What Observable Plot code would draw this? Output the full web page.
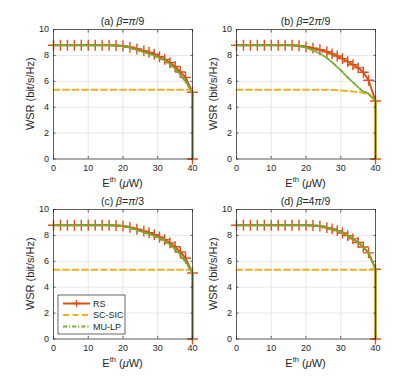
<!DOCTYPE html>
<html><head><meta charset="utf-8">
<script src="https://cdn.jsdelivr.net/npm/d3@7"></script>
<script src="https://cdn.jsdelivr.net/npm/@observablehq/plot@0.6"></script>
<style>
body{margin:0;background:#fff;}
#wrap{position:relative;width:415px;height:380px;font-family:"Liberation Sans",Arial,sans-serif;}
#wrap > svg{position:absolute;}
</style></head><body><div id="wrap"></div>
<script>
// ---- data ----
const xTicks = [0, 10, 20, 30, 40];
const yTicks = [0, 2, 4, 6, 8, 10];

// RS (markers)
const xRS = [0,2,4,6,8,10,12,14,16,18,20,22,24,26,27.5,29,30.5,32,33.5,35,36.5,38,40,40];
const rsA = [8.78,8.78,8.78,8.78,8.78,8.78,8.78,8.78,8.78,8.77,8.73,8.63,8.49,8.35,8.23,8.09,7.90,7.69,7.44,7.14,6.72,6.30,5.15,0];
const rsB = [8.78,8.78,8.78,8.78,8.78,8.78,8.78,8.78,8.78,8.74,8.66,8.56,8.44,8.28,8.12,7.95,7.75,7.52,7.28,7.04,6.70,6.08,4.48,0];
const rsC = [8.78,8.78,8.78,8.78,8.78,8.78,8.78,8.78,8.78,8.77,8.72,8.62,8.48,8.33,8.21,8.06,7.88,7.66,7.42,7.12,6.72,6.25,5.10,0];
const rsD = [8.78,8.78,8.78,8.78,8.78,8.78,8.78,8.78,8.78,8.78,8.78,8.77,8.72,8.60,8.50,8.37,8.19,7.98,7.73,7.45,7.10,6.65,5.39,0];

// MU-LP
const xMU = [0,2,4,6,8,10,12,14,16,18,20,22,24,26,28,30,32,34,36,38,40,40];
const muA = [8.78,8.78,8.78,8.78,8.78,8.78,8.78,8.78,8.78,8.77,8.72,8.60,8.43,8.25,8.08,7.88,7.62,7.22,6.68,5.98,5.10,0];
const muB = [8.78,8.78,8.78,8.78,8.78,8.78,8.78,8.78,8.78,8.76,8.60,8.40,8.15,7.80,7.35,6.85,6.30,5.80,5.30,5.05,4.48,0];
const muC = [8.78,8.78,8.78,8.78,8.78,8.78,8.78,8.78,8.78,8.77,8.72,8.60,8.42,8.24,8.06,7.86,7.60,7.20,6.66,5.96,5.10,0];
const muD = [8.78,8.78,8.78,8.78,8.78,8.78,8.78,8.78,8.78,8.78,8.78,8.77,8.72,8.60,8.45,8.26,7.98,7.64,7.22,6.65,5.39,0];

// SC-SIC
const xSC = [0,26,28,30,32,34,36,38,40,40];
const scA = [5.35,5.35,5.35,5.35,5.35,5.35,5.35,5.35,5.35,0];
const scB = [5.35,5.35,5.33,5.30,5.25,5.20,5.13,5.00,4.48,0];
const scC = [5.35,5.35,5.35,5.35,5.35,5.35,5.35,5.35,5.35,0];
const scD = [5.35,5.35,5.35,5.35,5.35,5.35,5.35,5.35,5.35,0];

const panelTags = ["(a) ", "(b) ", "(c) ", "(d) "];
const betaFrac = [["π", "/9"], ["2", "π", "/9"], ["π", "/3"], ["4", "π", "/9"]];
const seriesNames = ["RS", "SC-SIC", "MU-LP"];
const yLabel = "WSR (bit/s/Hz)";

const C_RS = "#D95319", C_SC = "#EDB120", C_MU = "#77AC30";
const AX = "#262626";
const FONT = "'Liberation Sans', Arial, sans-serif";
const DASH_SC = "6,3.5", DASH_MU = "4,2,1.2,2";

const W = 207, H = 190, ML = 53, MR = 15, MT = 29, MB = 31.5;
const pos = [[0,0],[183,0],[0,180],[183,180]];

function zip(xs, ys) { return xs.map((x, i) => ({x, y: ys[i]})); }

function panel(rs, mu, sc) {
  const rsData = zip(xRS, rs), muData = zip(xMU, mu), scData = zip(xSC, sc);
  return Plot.plot({
    width: W, height: H, marginLeft: ML, marginRight: MR, marginTop: MT, marginBottom: MB,
    style: {fontFamily: FONT, fontSize: "9px", color: AX, background: "transparent", overflow: "visible"},
    x: {domain: [0, 40], label: null},
    y: {domain: [0, 10], label: null},
    marks: [
      Plot.gridX(xTicks, {stroke: "#dedede", strokeOpacity: 1, strokeWidth: 0.7}),
      Plot.gridY(yTicks, {stroke: "#dedede", strokeOpacity: 1, strokeWidth: 0.7}),
      Plot.line(rsData, {x: "x", y: "y", stroke: C_RS, strokeWidth: 2}),
      Plot.dot(rsData, {x: "x", y: "y", symbol: "plus", r: 3.6, stroke: C_RS, strokeWidth: 1.4}),
      Plot.line(scData, {x: "x", y: "y", stroke: C_SC, strokeWidth: 2, strokeDasharray: DASH_SC}),
      Plot.line(muData, {x: "x", y: "y", stroke: C_MU, strokeWidth: 2, strokeDasharray: DASH_MU}),
      Plot.frame({stroke: AX, strokeWidth: 0.7}),
      Plot.axisX(xTicks, {anchor: "bottom", tickSize: -2.5, tickPadding: 8.5, label: null, stroke: AX, strokeWidth: 0.7}),
      Plot.axisX(xTicks, {anchor: "top", tickSize: -2.5, tickFormat: () => "", label: null, stroke: AX, strokeWidth: 0.7}),
      Plot.axisY(yTicks, {anchor: "left", tickSize: -2.5, tickPadding: 7, label: null, stroke: AX, strokeWidth: 0.7}),
      Plot.axisY(yTicks, {anchor: "right", tickSize: -2.5, tickFormat: () => "", label: null, stroke: AX, strokeWidth: 0.7})
    ]
  });
}

const wrap = document.getElementById("wrap");
const sets = [[rsA, muA, scA], [rsB, muB, scB], [rsC, muC, scC], [rsD, muD, scD]];
const cx = ML + (W - ML - MR) / 2;

sets.forEach((s, i) => {
  const svg = panel(...s);
  svg.style.left = pos[i][0] + "px";
  svg.style.top = pos[i][1] + "px";
  wrap.appendChild(svg);
  const g = d3.select(svg).append("g").attr("fill", AX).attr("font-family", FONT);

  // title
  const t = g.append("text").attr("x", cx).attr("y", 25).attr("text-anchor", "middle").attr("font-size", 10.5);
  t.append("tspan").text(panelTags[i]);
  t.append("tspan").attr("font-style", "italic").text("β");
  t.append("tspan").text("=");
  betaFrac[i].forEach(p => {
    const sp = t.append("tspan").text(p);
    if (p === "π") sp.attr("font-style", "italic");
  });

  // x label
  const xl = g.append("text").attr("x", cx).attr("y", 186.5).attr("text-anchor", "middle").attr("font-size", 11);
  xl.append("tspan").text("E");
  xl.append("tspan").attr("font-size", 7.5).attr("dy", -4.5).text("th");
  xl.append("tspan").attr("dy", 4.5).text(" (");
  xl.append("tspan").attr("font-style", "italic").text("μ");
  xl.append("tspan").text("W)");

  // y label
  g.append("text").attr("transform", `translate(33.5,${MT + (H - MT - MB) / 2}) rotate(-90)`)
    .attr("text-anchor", "middle").attr("font-size", 11).text(yLabel);

  // legend in panel (c)
  if (i === 2) {
    const lg = d3.select(svg).append("g").attr("font-family", FONT).attr("font-size", 9).attr("text-anchor", "start");
    lg.append("rect").attr("x", 58).attr("y", 115).attr("width", 67).attr("height", 39)
      .attr("fill", "#fff").attr("stroke", AX).attr("stroke-width", 0.7);
    const ys = [123.5, 135, 146.5];
    const cols = [C_RS, C_SC, C_MU];
    const dashes = [null, DASH_SC, DASH_MU];
    ys.forEach((yy, k) => {
      const ln = lg.append("line").attr("x1", 63).attr("x2", 90).attr("y1", yy).attr("y2", yy)
        .attr("stroke", cols[k]).attr("stroke-width", 2);
      if (dashes[k]) ln.attr("stroke-dasharray", dashes[k]);
      lg.append("text").attr("x", 93).attr("y", yy).attr("dy", "0.35em")
        .attr("text-anchor", "start").attr("fill", AX).text(seriesNames[k]);
    });
    lg.append("path").attr("d", `M${76.5 - 3.6},${ys[0]}h7.2M76.5,${ys[0] - 3.6}v7.2`)
      .attr("stroke", C_RS).attr("stroke-width", 1.4);
  }
});
</script>
</body></html>
